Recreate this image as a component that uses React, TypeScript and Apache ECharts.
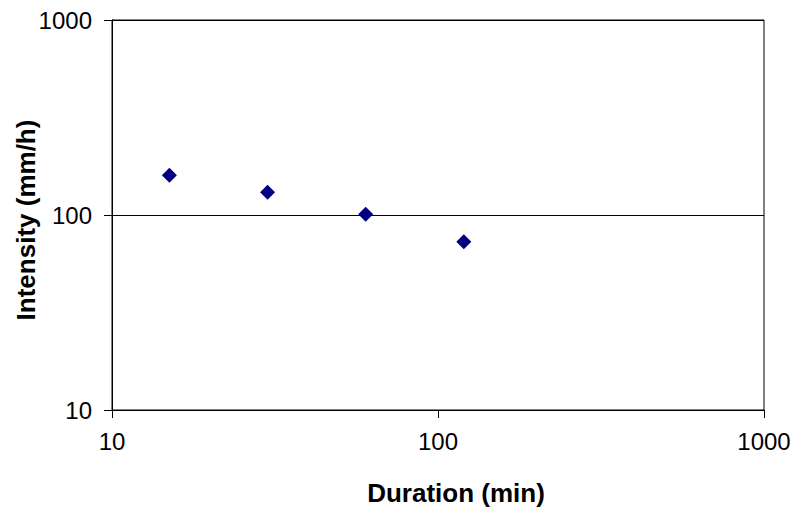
import React, { useEffect, useRef } from "react";
import * as echarts from "echarts";

const durations = [15, 30, 60, 120];
const intensities = [160, 131, 101, 73];
const xTitle = "Duration (min)";
const yTitle = "Intensity (mm/h)";

export default function App() {
  const ref = useRef<HTMLDivElement>(null);
  useEffect(() => {
    const chart = echarts.init(ref.current!, null, { renderer: "svg" });
    const font = "Liberation Sans, Arial, sans-serif";
    chart.setOption({
      animation: false,
      backgroundColor: "#ffffff",
      grid: {
        left: 112,
        right: 30,
        top: 20,
        bottom: 99,
        show: true,
        borderColor: "#000",
        borderWidth: 1,
        backgroundColor: "transparent",
        containLabel: false,
        outerBoundsMode: "none",
      },
      xAxis: {
        type: "log",
        logBase: 10,
        min: 10,
        max: 1000,
        name: xTitle,
        nameLocation: "middle",
        nameGap: 70,
        nameMoveOverlap: false,
        nameTextStyle: {
          fontFamily: font,
          fontSize: 26,
          fontWeight: "bold",
          color: "#000",
          padding: [0, 0, 0, 36],
        },
        axisLine: { show: true, lineStyle: { color: "#000", width: 1 } },
        axisTick: { show: true, inside: false, length: 8, lineStyle: { color: "#000" } },
        minorTick: { show: false },
        splitLine: { show: false },
        axisLabel: {
          fontFamily: font,
          fontSize: 24,
          color: "#000",
          margin: 19,
          formatter: (v: number) => String(Math.round(v)),
        },
      },
      yAxis: {
        type: "log",
        logBase: 10,
        min: 10,
        max: 1000,
        name: yTitle,
        nameLocation: "middle",
        nameGap: 73,
        nameMoveOverlap: false,
        nameTextStyle: {
          fontFamily: font,
          fontSize: 26,
          fontWeight: "bold",
          color: "#000",
          padding: [0, 10, 0, 0],
        },
        axisLine: { show: true, lineStyle: { color: "#000", width: 1 } },
        axisTick: { show: true, inside: false, length: 8, lineStyle: { color: "#000" } },
        minorTick: { show: false },
        splitLine: { show: true, lineStyle: { color: "#000", width: 1 } },
        axisLabel: {
          fontFamily: font,
          fontSize: 24,
          color: "#000",
          margin: 20,
          formatter: (v: number) => String(Math.round(v)),
        },
      },
      series: [
        {
          type: "scatter",
          data: durations.map((d, i) => [d, intensities[i]]),
          symbol: "diamond",
          symbolSize: 15,
          itemStyle: { color: "#000080", opacity: 1 },
        },
      ],
    });
    return () => chart.dispose();
  }, []);
  return (
    <div
      ref={ref}
      style={{ position: "absolute", left: 0, top: 0, width: 794, height: 509 }}
    />
  );
}
